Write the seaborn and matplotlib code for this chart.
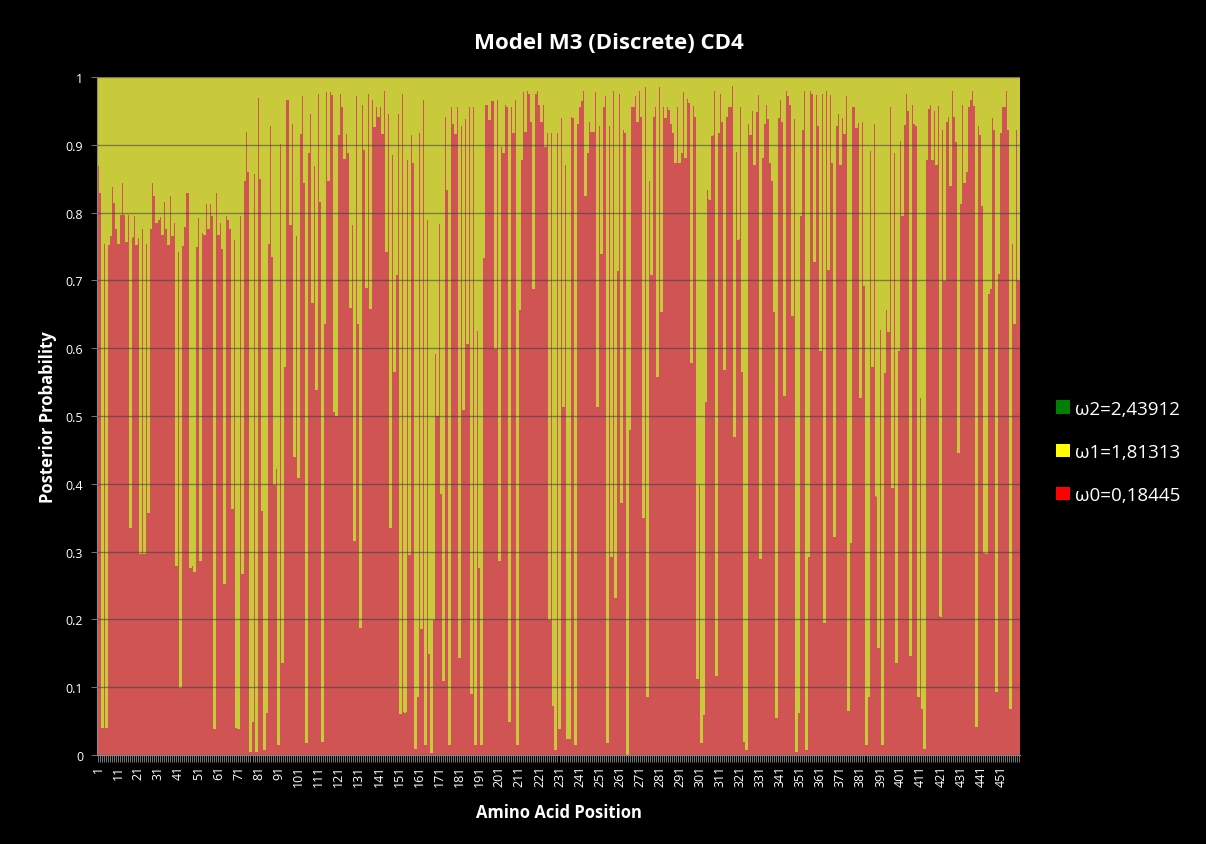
import matplotlib
matplotlib.use("Agg")
import matplotlib.pyplot as plt
import numpy as np
import pandas as pd
import seaborn as sns
from matplotlib.patches import Patch

# Posterior probability of the omega0 class, read position by position (left to right)
p0_block01 = [0.87, 0.83, 0.04, 0.755, 0.04, 0.753, 0.766, 0.838, 0.815, 0.776, 0.755, 0.797, 0.844, 0.797,
              0.758, 0.797, 0.335, 0.764, 0.796, 0.753, 0.764, 0.297, 0.776, 0.297, 0.755, 0.358, 0.777, 0.844,
              0.825, 0.785, 0.79, 0.794, 0.767, 0.817, 0.776, 0.753, 0.825, 0.766, 0.785, 0.28, 0.743]
p0_block02 = [0.1, 0.752, 0.779, 0.83, 0.83, 0.276, 0.28, 0.271, 0.75, 0.793, 0.287, 0.771, 0.768, 0.813,
              0.776, 0.813, 0.796, 0.039, 0.83, 0.768, 0.785, 0.747, 0.253, 0.796, 0.79, 0.776, 0.363, 0.76,
              0.04, 0.039, 0.796, 0.268, 0.847, 0.92, 0.86, 0.005, 0.05, 0.857, 0.005, 0.97, 0.85, 0.36]
p0_block03 = [0.008, 0.062, 0.755, 0.929, 0.735, 0.399, 0.423, 0.015, 0.902, 0.137, 0.573, 0.967, 0.967,
              0.783, 0.932, 0.44, 0.766, 0.409, 0.917, 0.972, 0.844, 0.018, 0.889, 0.946, 0.667, 0.87, 0.539,
              0.976, 0.817, 0.02, 0.636, 0.978, 0.848, 0.978, 0.974, 0.507, 0.5, 0.915, 0.976, 0.956, 0.88, 0.916]
p0_block04 = [0.889, 0.66, 0.783, 0.317, 0.972, 0.636, 0.188, 0.959, 0.893, 0.689, 0.976, 0.659, 0.967,
              0.927, 0.956, 0.942, 0.956, 0.916, 0.98, 0.743, 0.946, 0.335, 0.885, 0.565, 0.708, 0.946, 0.061,
              0.976, 0.062, 0.878, 0.295, 0.915, 0.874, 0.01, 0.086, 0.918, 0.186, 0.967, 0.016, 0.79, 0.149, 0.003]
p0_block05 = [0.2, 0.592, 0.5, 0.784, 0.385, 0.11, 0.942, 0.834, 0.015, 0.956, 0.932, 0.916, 0.956, 0.144,
              0.929, 0.51, 0.939, 0.607, 0.956, 0.09, 0.956, 0.015, 0.626, 0.276, 0.016, 0.734, 0.959, 0.959,
              0.938, 0.965, 0.966, 0.6, 0.967, 0.287, 0.897, 0.889, 0.959, 0.956, 0.049, 0.956, 0.918, 0.967]
p0_block06 = [0.015, 0.657, 0.878, 0.978, 0.92, 0.98, 0.975, 0.935, 0.688, 0.976, 0.98, 0.959, 0.935, 0.959,
              0.898, 0.918, 0.2, 0.918, 0.073, 0.008, 0.918, 0.039, 0.94, 0.514, 0.871, 0.025, 0.025, 0.942,
              0.94, 0.015, 0.932, 0.956, 0.966, 0.98, 0.825, 0.889, 0.935, 0.92, 0.92, 0.978, 0.514, 0.929]
p0_block07 = [0.739, 0.956, 0.972, 0.018, 0.929, 0.293, 0.98, 0.232, 0.715, 0.976, 0.372, 0.923, 0.918,
              0.001, 0.48, 0.956, 0.956, 0.972, 0.935, 0.98, 0.942, 0.351, 0.986, 0.086, 0.847, 0.709, 0.942,
              0.956, 0.558, 0.986, 0.654, 0.956, 0.94, 0.956, 0.952, 0.932, 0.918, 0.874, 0.956, 0.874, 0.888, 0.978]
p0_block08 = [0.881, 0.969, 0.963, 0.579, 0.958, 0.942, 0.113, 0.399, 0.018, 0.059, 0.521, 0.834, 0.82,
              0.913, 0.98, 0.117, 0.918, 0.976, 0.935, 0.569, 0.942, 0.956, 0.956, 0.988, 0.47, 0.89, 0.761,
              0.956, 0.565, 0.02, 0.008, 0.932, 0.915, 0.951, 0.871, 0.949, 0.974, 0.29, 0.881, 0.932, 0.959, 0.939]
p0_block09 = [0.874, 0.848, 0.654, 0.056, 0.94, 0.967, 0.935, 0.53, 0.98, 0.973, 0.96, 0.648, 0.939, 0.005,
              0.062, 0.796, 0.922, 0.98, 0.008, 0.293, 0.98, 0.976, 0.728, 0.974, 0.929, 0.597, 0.976, 0.195,
              0.98, 0.716, 0.974, 0.874, 0.322, 0.929, 0.946, 0.871, 0.94, 0.917, 0.972, 0.066, 0.314, 0.956]
p0_block10 = [0.956, 0.925, 0.933, 0.527, 0.935, 0.693, 0.015, 0.086, 0.891, 0.573, 0.932, 0.382, 0.158,
              0.628, 0.015, 0.564, 0.657, 0.625, 0.956, 0.395, 0.888, 0.136, 0.596, 0.906, 0.796, 0.93, 0.976,
              0.951, 0.147, 0.96, 0.932, 0.929, 0.086, 0.527, 0.069, 0.01, 0.878, 0.954, 0.96, 0.878, 0.951, 0.871]
p0_block11 = [0.958, 0.205, 0.922, 0.7, 0.935, 0.942, 0.84, 0.98, 0.942, 0.905, 0.446, 0.813, 0.96, 0.844,
              0.861, 0.956, 0.967, 0.98, 0.958, 0.042, 0.929, 0.915, 0.811, 0.299, 0.297, 0.681, 0.688, 0.94,
              0.922, 0.093, 0.71, 0.918, 0.956, 0.956, 0.98, 0.922, 0.069, 0.755, 0.636, 0.922, 0.7]

omega0 = (p0_block01 + p0_block02 + p0_block03 + p0_block04 + p0_block05 + p0_block06 +
          p0_block07 + p0_block08 + p0_block09 + p0_block10 + p0_block11)
N = len(omega0)
positions = list(range(1, N + 1))
# the omega2 (green) share is not visible anywhere: every stack tops out at 1 with omega0 + omega1
stack_top = 1.0
omega1 = [stack_top - v for v in omega0]

legend_labels = ["ω2=2,43912", "ω1=1,81313", "ω0=0,18445"]
legend_colors = ["#008000", "#ffff00", "#ff0000"]
title = "Model M3 (Discrete) CD4"
xlabel = "Amino Acid Position"
ylabel = "Posterior Probability"
y_ticks = [0, 0.1, 0.2, 0.3, 0.4, 0.5, 0.6, 0.7, 0.8, 0.9, 1]
y_ticklabels = ["0", "0.1", "0.2", "0.3", "0.4", "0.5", "0.6", "0.7", "0.8", "0.9", "1"]

df = pd.DataFrame({"pos": positions, "w0": omega0, "w1": omega1})

plt.rcParams["font.family"] = ["Open Sans", "DejaVu Sans"]

fig = plt.figure(figsize=(12.06, 8.45), dpi=100, facecolor="black")
ax = fig.add_axes([97 / 1206, 1 - 756 / 845, (1020 - 97) / 1206, (756 - 78) / 845])
ax.set_facecolor("black")

# bars are ~2 px wide with grey separators in the reference; drawn here as the blended tone
red_tone = "#d05454"
yellow_tone = "#c9c93c"
sns.barplot(data=df, x="pos", y="w0", color=red_tone, saturation=1, width=1.0,
            linewidth=0, errorbar=None, ax=ax, zorder=1.5)
n_red = len(ax.patches)
sns.barplot(data=df, x="pos", y="w1", color=yellow_tone, saturation=1, width=1.0,
            linewidth=0, errorbar=None, ax=ax, zorder=1.5)
red_patches = ax.patches[:n_red]
yellow_patches = ax.patches[n_red:]
for rp, yp in zip(red_patches, yellow_patches):
    yp.set_y(rp.get_y() + rp.get_height())
for p in ax.patches:
    p.set_snap(False)
    p.set_antialiased(False)
    p.set_zorder(1.5)

ax.set_xlim(-0.5, N - 0.5)
ax.set_ylim(0, 1)

major_idx = list(range(0, N, 10))
ax.set_xticks(major_idx)
ax.set_xticklabels([str(positions[i]) for i in major_idx], rotation=90, color="white", fontsize=9)
ax.set_xticks(range(N), minor=True)
ax.tick_params(axis="x", which="both", length=5, width=0.6, color="#8a8a8a", pad=2)

ax.set_yticks(y_ticks)
ax.set_yticklabels(y_ticklabels, color="white", fontsize=9)
ax.tick_params(axis="y", length=4, width=0.6, color="#8a8a8a", pad=6)

# grid drawn over the bars, as in the reference
ax.set_axisbelow(False)
ax.yaxis.grid(True, color="#3c3c3c", linewidth=1.0, alpha=0.55)
ax.xaxis.grid(False)

for s in ["top", "right"]:
    ax.spines[s].set_visible(False)
for s in ["left", "bottom"]:
    ax.spines[s].set_color("#8a8a8a")
    ax.spines[s].set_linewidth(0.8)

ax.set_xlabel(xlabel, color="white", fontsize=12, fontweight="bold", labelpad=12)
ax.set_ylabel(ylabel, color="white", fontsize=12, fontweight="bold", labelpad=6)

fig.suptitle(title, color="white", fontsize=16, fontweight="bold", x=0.505, y=0.948, va="center")

handles = [Patch(facecolor=c, edgecolor="none") for c in legend_colors]
fig.legend(handles, legend_labels, loc="center left", bbox_to_anchor=(0.862, 0.464),
           frameon=False, labelcolor="white", fontsize=13.5, handlelength=0.7, handleheight=0.7,
           handletextpad=0.3, labelspacing=1.35)

fig.savefig("out.png", dpi=100, facecolor="black")
